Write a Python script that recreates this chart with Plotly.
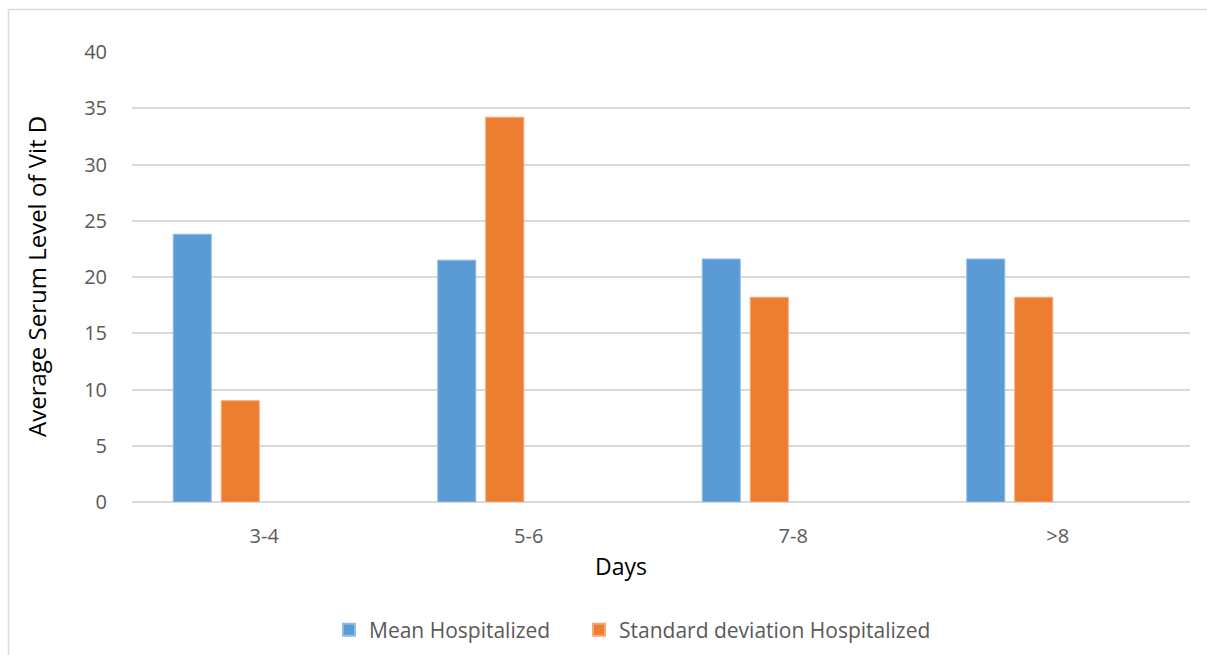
import plotly.graph_objects as go

categories = ["3-4", "5-6", "7-8", ">8"]
mean_hosp = [23.8, 21.5, 21.6, 21.6]
sd_hosp = [9.0, 34.2, 18.2, 18.2]
empty_a = [None, None, None, None]
empty_b = [None, None, None, None]
y_ticks = [0, 5, 10, 15, 20, 25, 30, 35, 40]

W, H = 1207, 655
L, R, T, B = 132, 17, 52, 153
pw = W - L - R
ph = H - T - B

def px(x):
    return (x - L) / pw

def py(y):
    return (H - B - y) / ph

fig = go.Figure()
fig.add_trace(go.Bar(x=categories, y=mean_hosp, name="Mean Hospitalized", legend="legend",
                     marker=dict(color="#5b9bd5", line=dict(color="#8fbbe6", width=1))))
fig.add_trace(go.Bar(x=categories, y=sd_hosp, name="Standard deviation Hospitalized", legend="legend2",
                     marker=dict(color="#ed7d31", line=dict(color="#f4a877", width=1))))
fig.add_trace(go.Bar(x=categories, y=empty_a, showlegend=False, hoverinfo="skip"))
fig.add_trace(go.Bar(x=categories, y=empty_b, showlegend=False, hoverinfo="skip"))

font_family = "'Open Sans', Lato, sans-serif"

leg_common = dict(orientation="h", xanchor="left", y=py(630), yanchor="middle",
                  font=dict(size=21, color="#595959"), itemwidth=30, tracegroupgap=0,
                  itemsizing="constant", bgcolor="rgba(0,0,0,0)")

fig.update_layout(
    width=W, height=H,
    margin=dict(l=L, r=R, t=T, b=B, autoexpand=False),
    paper_bgcolor="white", plot_bgcolor="white",
    barmode="group", bargap=0.274, bargroupgap=0.208,
    font=dict(family=font_family, color="#595959", size=20),
    xaxis=dict(showgrid=False, showline=False, ticks="", tickfont=dict(size=20, color="#595959"),
               ticklabelstandoff=20),
    yaxis=dict(range=[0, 40], tickvals=y_ticks, showgrid=True, gridcolor="#d9d9d9", gridwidth=1.5,
               zeroline=True, zerolinecolor="#d9d9d9", zerolinewidth=1.5,
               showline=False, ticks="", tickfont=dict(size=20, color="#595959"),
               ticklabelstandoff=24),
    legend=dict(x=px(329), **leg_common),
    legend2=dict(x=px(579), **leg_common),
    showlegend=True,
)

fig.add_annotation(text="Average Serum Level of Vit D", x=px(36), y=py(277), xref="paper", yref="paper",
                   textangle=-90, showarrow=False, font=dict(size=24, color="#000000", family=font_family),
                   xanchor="center", yanchor="middle")
fig.add_annotation(text="Days", x=px(621), y=py(566), xref="paper", yref="paper",
                   showarrow=False, font=dict(size=23, color="#000000", family=font_family),
                   xanchor="center", yanchor="middle")

# outer chart frame (top and left edges visible)
fig.add_shape(type="line", xref="paper", yref="paper", x0=px(8.5), x1=px(1207), y0=py(9.5), y1=py(9.5),
              line=dict(color="#d9d9d9", width=1.5))
fig.add_shape(type="line", xref="paper", yref="paper", x0=px(8.5), x1=px(8.5), y0=py(9.5), y1=py(655),
              line=dict(color="#d9d9d9", width=1.5))

fig.write_html("out.html", config={"displayModeBar": False},
               post_script="document.body.style.margin='0';document.body.style.padding='0';")
